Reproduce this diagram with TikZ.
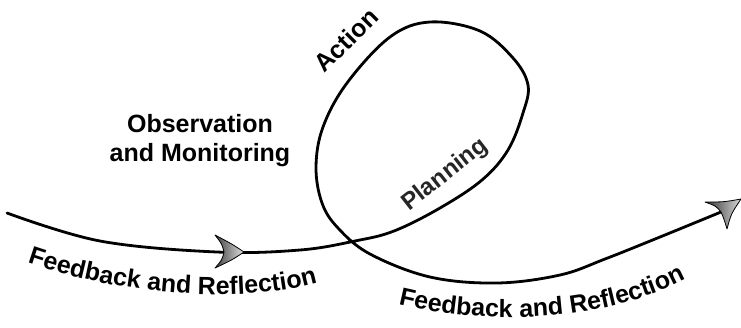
\documentclass[tikz,border=0pt]{standalone}
\usepackage{fontspec}
\setmainfont{Liberation Sans}
\usetikzlibrary{decorations.text}
\tikzset{
  flow/.style={line width=2.8pt, line cap=round, line join=round},
  label25/.style={font=\bfseries\fontsize{25}{29}\selectfont, inner sep=0pt},
  arrowhead/.style={draw=black, line width=0.8pt, line join=round},
}
\begin{document}
\begin{tikzpicture}[x=1pt,y=-1pt]
\useasboundingbox (0,0) rectangle (741,327);
% main looping path
\draw[flow] plot[smooth, tension=0.6] coordinates {
 (7,213) (100,241) (217,252) (300,250) (355,241) (394,231) (440,208)
 (482,180) (508,150) (523,113) (528,85) (513,58) (480,31) (430,22) (390,37)
 (347,83) (323,127) (316,167) (322,203) (338,228) (370,254) (430,277)
 (497,283) (560,275) (605,259) (660,237) (721,212)};
% arrowhead 1
\shade[arrowhead, left color=black!75, right color=black!12]
 (244,252) .. controls (232,244) .. (215,235)
 .. controls (222,244) .. (224,252)
 .. controls (222,260) .. (215,268)
 .. controls (232,260) .. (244,252) -- cycle;
% arrowhead 2
\shade[arrowhead, left color=black!80, right color=black!15]
 (741,199) .. controls (724,202) .. (705,202)
 .. controls (716,206) .. (721,212)
 .. controls (724,219) .. (727,229)
 .. controls (731,214) .. (741,199) -- cycle;
% labels
\node[label25, rotate=45] (action) at (346,40) {Action};
\node[label25, align=center] (obs) at (200,141) {Observation\\and Monitoring};
\node[label25, font=\bfseries\fontsize{24}{28}\selectfont, text=black!85, rotate=38, anchor=base] (plan) at (449,180) {Planning};
\path[decorate, decoration={text along path, text align=center,
  text={|\bfseries\fontsize{25}{29}\selectfont|Feedback and Reflection}}]
  (25,262) .. controls (120,295) and (240,305) .. (320,282);
\path[decorate, decoration={text along path, text align=center,
  text={|\bfseries\fontsize{25}{29}\selectfont|Feedback and Reflection}}]
  (396,304) .. controls (480,325) and (600,325) .. (688,278);
\end{tikzpicture}
\end{document}
